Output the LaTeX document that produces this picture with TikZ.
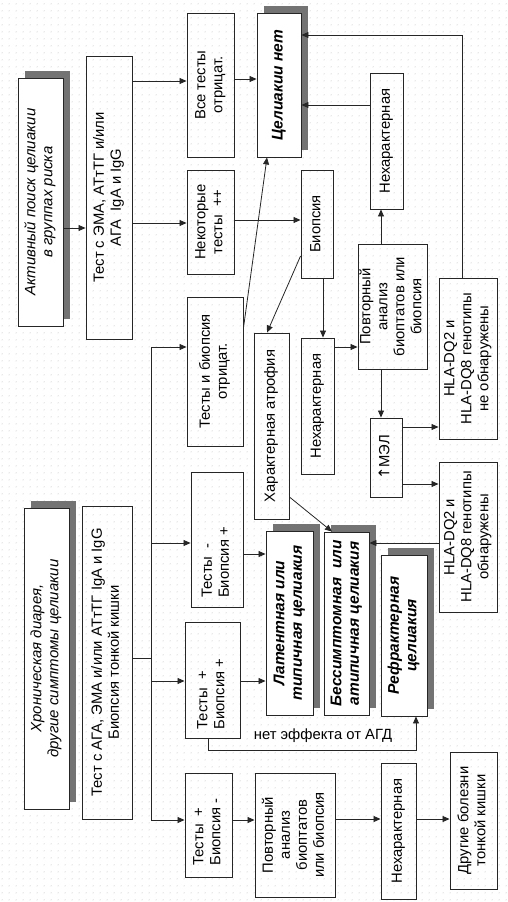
\documentclass[tikz,border=0pt]{standalone}
\usepackage{fontspec}
\setmainfont{Liberation Sans}
\newfontfamily\dejavu{DejaVu Sans}
\usepackage{graphicx}
\usetikzlibrary{arrows.meta,patterns.meta}
\newcommand\rt[2][c]{\rotatebox{90}{\begin{tabular}{@{}#1@{}}#2\end{tabular}}}
\newcommand\rtl[2]{\rotatebox{90}{\begin{tabular}{@{}l@{\hspace{#1}}}#2\end{tabular}}}
\tikzdeclarepattern{name=bgdots, type=uncolored,
  bounding box={(0pt,0pt) and (7pt,7pt)}, tile size={(7pt,7pt)},
  code={\fill (3.5pt,3.5pt) circle (0.55pt);}}
\begin{document}
\begin{tikzpicture}[x=1pt,y=-1pt,
  box/.style={draw=black!85, line width=0.9pt, inner sep=0pt, font=\fontsize{14.8}{17}\selectfont},
  it/.style={font=\fontsize{15}{17}\selectfont\itshape},
  bi/.style={font=\fontsize{15.5}{17.5}\selectfont\bfseries\itshape},
  sh/.style={fill=black!55},
  arr/.style={draw=black!85, line width=0.8pt, -{Triangle[length=7pt,width=6pt]}},
  ln/.style={draw=black!85, line width=0.8pt},
  lbl/.style={font=\fontsize{14.8}{17}\selectfont, inner sep=0pt}]
\useasboundingbox (0,0) rectangle (508,902);
\fill[pattern=bgdots, pattern color=black!35] (0,0) rectangle (508,902);

% shadows
\fill[sh] (25,71) rectangle (70,319);
\fill[sh] (31,501) rectangle (76,802);
\fill[sh] (264,6) rectangle (308,150);
\fill[sh] (273,524) rectangle (320,708);
\fill[sh] (331,525) rectangle (376,708);
\fill[sh] (388,548) rectangle (434,709);

% top branch
\node[box, it, fill=white, minimum width=45pt, minimum height=248pt] (act) at (40.5,202) {\rt{Активный поиск целиакии\\в группах риска}};
\node[box, minimum width=46pt, minimum height=283pt] (test1) at (109,197.5) {\rt{Тест с ЭМА, АТтТГ и/или\\АГА\ \ IgA и IgG}};
\node[box, minimum width=47pt, minimum height=144pt] (allneg) at (210.5,85) {\rt{Все тесты\\отрицат.}};
\node[box, minimum width=47pt, minimum height=104pt] (some) at (210.5,222) {\rt{Некоторые\\тесты\ \ ++}};
\node[box, bi, fill=white, minimum width=44pt, minimum height=144pt] (nocd) at (279,85) {\rt{Целиакии нет}};
\node[box, minimum width=33pt, minimum height=136pt] (nonchar1) at (386.5,141) {\rt{Нехарактерная}};
\node[box, minimum width=32pt, minimum height=108pt] (biopsy) at (317,224) {\rt{Биопсия}};
\node[box, minimum width=69pt, minimum height=125pt] (repeat1) at (392.5,306.5) {\rt{Повторный\\анализ\\биоптатов или\\биопсия}};
\node[box, minimum width=58pt, minimum height=161pt] (hlano) at (468,358.5) {\rt{HLA-DQ2 и\\HLA-DQ8 генотипы\\не обнаружены}};
\node[box, minimum width=32pt, minimum height=79pt] (mel) at (386,457.5) {\rt{{\dejavu ↑}МЭЛ}};
\node[box, minimum width=58pt, minimum height=150pt] (hlayes) at (468,537) {\rt{HLA-DQ2 и\\HLA-DQ8 генотипы\\обнаружены}};
\node[box, minimum width=35pt, minimum height=186pt] (atroph) at (271.5,426) {\rt{Характерная атрофия}};
\node[box, minimum width=33pt, minimum height=136pt] (nonchar2) at (317.5,406) {\rt{Нехарактерная}};
\node[box, minimum width=56pt, minimum height=149pt] (testbneg) at (215,371.5) {\rt{Тесты и биопсия\\отрицат.}};

% bottom branch
\node[box, it, fill=white, minimum width=45pt, minimum height=301pt] (chron) at (46.5,658.5) {\rt{Хроническая диарея,\\другие симптомы целиакии}};
\node[box, minimum width=50pt, minimum height=313pt] (test2) at (107,662.5) {\rt{Тест с АГА, ЭМА и/или АТтТГ IgA и IgG\\Биопсия тонкой кишки}};
\node[box, minimum width=52pt, minimum height=135pt] (tmbp) at (217,539.5) {\rtl{46pt}{Тесты\ \ -\\Биопсия +}};
\node[box, minimum width=55pt, minimum height=116pt] (tpbp) at (212.5,680) {\rtl{28pt}{Тесты\ \ +\\Биопсия +}};
\node[box, bi, fill=white, minimum width=47pt, minimum height=184pt] (latent) at (289.5,623) {\rt{Латентная или\\типичная целиакия}};
\node[box, bi, fill=white, minimum width=45pt, minimum height=183pt] (asym) at (346.5,623.5) {\rt{Бессимптомная\ \ или\\атипичная целиакия}};
\node[box, bi, fill=white, minimum width=46pt, minimum height=161pt] (refr) at (404,635.5) {\rt{Рефрактерная\\целиакия}};
\node[box, minimum width=47pt, minimum height=104pt] (tpbm) at (208.5,825) {\rtl{14pt}{Тесты\ \ +\\Биопсия\ -}};
\node[box, minimum width=80pt, minimum height=124pt] (repeat2) at (295,835) {\rt{Повторный\\анализ\\биоптатов\\или биопсия}};
\node[box, minimum width=35pt, minimum height=136pt] (nonchar3) at (398.5,831) {\rt{Нехарактерная}};
\node[box, minimum width=47pt, minimum height=137pt] (other) at (473.5,820.5) {\rt{Другие болезни\\тонкой кишки}};
\node[lbl] (noeff) at (323,736) {нет эффекта от АГД};

\coordinate (tr) at (151,658);

% connectors top
\draw[arr] (act.east |- 0,228) -- (test1.west |- 0,228);
\draw[arr] (test1.east |- 0,81) -- (allneg.west |- 0,81);
\draw[arr] (test1.east |- 0,223) -- (some.west |- 0,223);
\draw[arr] (allneg.east |- 0,79) -- (nocd.west |- 0,79);
\draw[arr] (some.east |- 0,220) -- (biopsy.west |- 0,220);
\draw[arr] (biopsy.west |- 0,256) -- (atroph.north -| 267,0);
\draw[arr] (biopsy.south -| 323,0) -- (nonchar2.north -| 323,0);
\draw[arr] (nonchar2.east |- 0,347) -- (repeat1.west |- 0,347);
\draw[arr] (repeat1.north -| 381,0) -- (nonchar1.south -| 381,0);
\draw[arr] (nonchar1.west |- 0,105) -- (nocd.east |- 0,105);
\draw[arr] (repeat1.south -| 381,0) -- (mel.north -| 381,0);
\draw[arr] (mel.east |- 0,427) -- (hlano.west |- 0,427);
\draw[arr] (mel.east |- 0,484) -- (hlayes.west |- 0,484);
\draw[arr] (hlano.north -| 462,0) |- (nocd.east |- 0,35);
\draw[arr] (hlayes.west |- 0,543) -- (asym.east |- 0,543);
\draw[arr] (atroph.east |- 0,497) -- (asym.north -| 332,0);
\draw[arr] (testbneg.east |- 0,328) -- (nocd.south -| 267,0);

% connectors bottom
\draw[ln] (test2.east |- tr) -- (tr);
\draw[arr] (tr) |- (testbneg.west |- 0,347);
\draw[arr] (tr) |- (tmbp.west |- 0,543);
\draw[arr] (tr) |- (tpbp.west |- 0,681);
\draw[arr] (tr) |- (tpbm.west |- 0,820);
\draw[arr] (tmbp.east |- 0,554) -- (latent.west |- 0,554);
\draw[arr] (tpbp.east |- 0,681) -- (latent.west |- 0,681);
\draw[arr] (tpbp.south -| 208,0) -- ++(0,12) -| (refr.south -| 416,0);
\draw[arr] (tpbm.east |- 0,820) -- (repeat2.west |- 0,820);
\draw[arr] (repeat2.east |- 0,819) -- (nonchar3.west |- 0,819);
\draw[arr] (nonchar3.east |- 0,819) -- (other.west |- 0,819);
\end{tikzpicture}
\end{document}
